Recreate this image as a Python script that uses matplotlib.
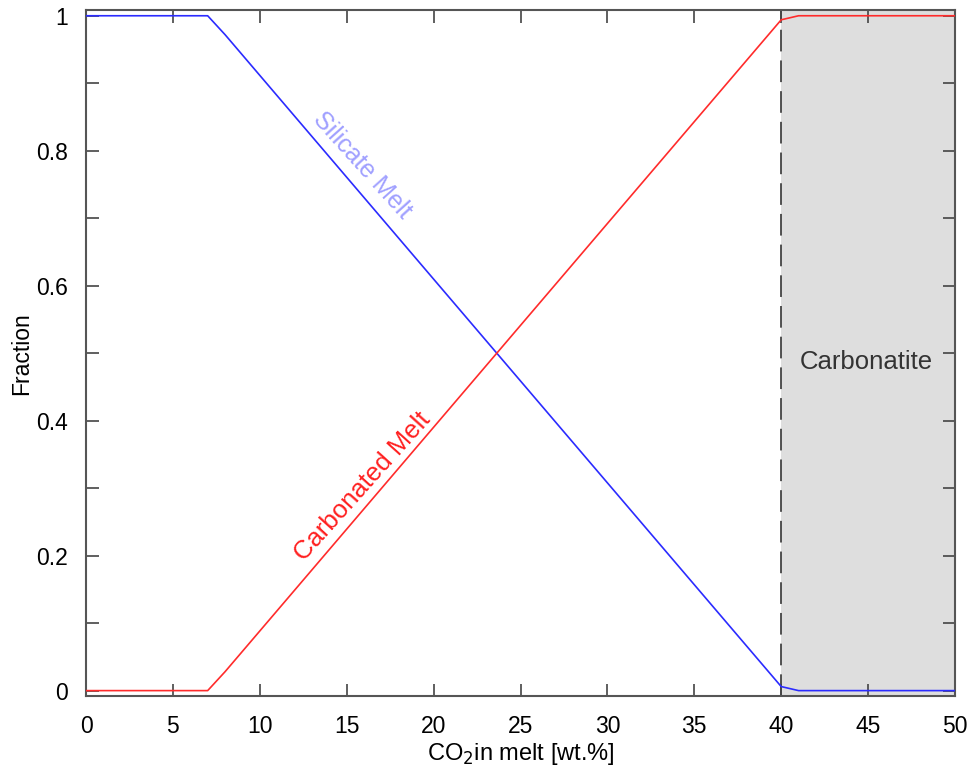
import matplotlib
matplotlib.use("Agg")
import matplotlib.pyplot as plt
from matplotlib.ticker import MultipleLocator

plt.rcParams['font.family'] = ['Liberation Sans', 'DejaVu Sans']

# ---- data ----
co2 = [0, 7, 8, 40, 41, 50]
silicate = [1.0, 1.0, 0.972, 0.006, 0.0, 0.0]
carbonated = [0.0, 0.0, 0.028, 0.994, 1.0, 1.0]
carbonatite_start = 40
x_max = 50

fig = plt.figure(figsize=(9.72, 7.73), dpi=100)
ax = fig.add_axes([0.0885, 0.0996, 0.894, 0.887])

ax.axvspan(carbonatite_start, x_max, color='#dedede', zorder=0, lw=0)
ax.axvline(carbonatite_start, color='#444444', lw=1.3, dashes=(12, 5), zorder=1)

ax.plot(co2, silicate, color='#2b2bff', lw=1.2, zorder=3)
ax.plot(co2, carbonated, color='#ff2b2b', lw=1.2, zorder=3)

ax.text(15.9, 0.779, 'Silicate Melt', color='#a0a0ff', fontsize=18,
        rotation=-48, ha='center', va='center', rotation_mode='anchor')
ax.text(15.9, 0.302, 'Carbonated Melt', color='#ff2020', fontsize=18.5,
        rotation=48, ha='center', va='center', rotation_mode='anchor')
ax.text(44.9, 0.487, 'Carbonatite', color='#333333', fontsize=18.5,
        ha='center', va='center')

ax.set_xlim(0, x_max)
ax.set_ylim(-0.008, 1.008)
ax.xaxis.set_major_locator(MultipleLocator(5))
ax.yaxis.set_minor_locator(MultipleLocator(0.1))
ax.set_yticks([0, 0.2, 0.4, 0.6, 0.8, 1.0])
ax.set_yticklabels(['0', '0.2', '0.4', '0.6', '0.8', '1'])

ax.tick_params(which='both', direction='in', top=True, right=True,
               length=9, width=1.2, color='#444444', labelsize=16.5)
ax.tick_params(axis='x', pad=14)
ax.tick_params(axis='y', pad=13)

for s in ax.spines.values():
    s.set_color('#555555')
    s.set_linewidth(1.5)

ax.set_xlabel(r'CO$_2$in melt [wt.%]', fontsize=17, labelpad=2)
ax.set_ylabel('Fraction', fontsize=16.5, labelpad=2)

fig.savefig('out.png', dpi=100)
